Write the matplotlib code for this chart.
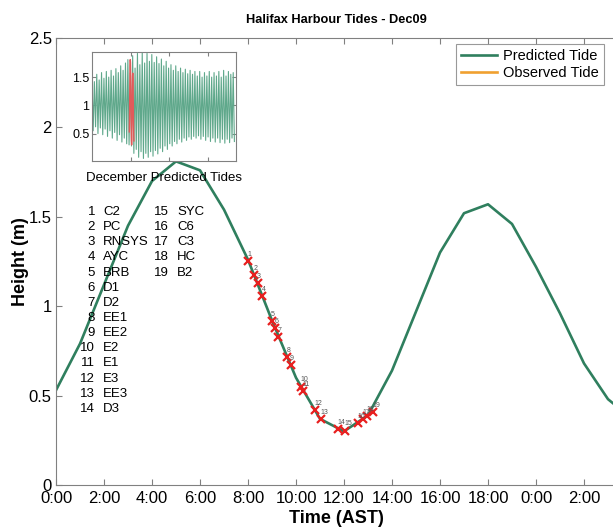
import numpy as np
import matplotlib
matplotlib.use("Agg")
import matplotlib.pyplot as plt

plt.rcParams['font.family'] = ['Liberation Sans', 'DejaVu Sans']

# predicted tide for Dec 09, hourly (m)
hours = np.arange(0, 25)
pred = [0.53, 0.79, 1.12, 1.45, 1.70, 1.81, 1.76, 1.54, 1.26, 0.92, 0.60, 0.37,
        0.30, 0.39, 0.64, 0.97, 1.30, 1.52, 1.57, 1.46, 1.22, 0.96, 0.68, 0.48, 0.37]

# sample stations (time in hours, height in m)
stations = ["C2", "PC", "RNSYS", "AYC", "BRB", "D1", "D2", "EE1", "EE2", "E2",
            "E1", "E3", "EE3", "D3", "SYC", "C6", "C3", "HC", "B2"]
st_time = [8.01, 8.26, 8.40, 8.60, 8.99, 9.13, 9.26, 9.64, 9.78, 10.21,
           10.31, 10.79, 11.03, 11.76, 12.04, 12.60, 12.80, 12.97, 13.20]
st_height = [1.254, 1.174, 1.128, 1.057, 0.919, 0.876, 0.829, 0.714, 0.671, 0.55,
             0.527, 0.42, 0.367, 0.311, 0.304, 0.348, 0.367, 0.386, 0.41]

xtick_pos = np.arange(0, 23, 2)
xtick_lab = ["0:00", "2:00", "4:00", "6:00", "8:00", "10:00", "12:00", "14:00",
             "16:00", "18:00", "0:00", "2:00"]
ytick_pos = [0, 0.5, 1, 1.5, 2, 2.5]
ytick_lab = ["0", "0.5", "1", "1.5", "2", "2.5"]

# December predicted highs / lows (m), one per tidal cycle
dec_highs = [1.50, 1.42, 1.55, 1.45, 1.58, 1.48, 1.60, 1.50, 1.62, 1.52,
             1.65, 1.58, 1.70, 1.62, 1.75, 1.81, 1.57, 1.88, 1.66, 1.92,
             1.72, 1.93, 1.75, 1.92, 1.78, 1.90, 1.76, 1.86, 1.74, 1.82,
             1.70, 1.78, 1.66, 1.72, 1.62, 1.70, 1.60, 1.66, 1.58, 1.64,
             1.56, 1.62, 1.55, 1.60, 1.52, 1.60, 1.50, 1.58, 1.52, 1.60,
             1.50, 1.58, 1.52, 1.60, 1.50, 1.62, 1.52, 1.60, 1.55, 1.58]
dec_lows = [0.55, 0.62, 0.50, 0.60, 0.48, 0.58, 0.45, 0.55, 0.42, 0.52,
            0.38, 0.48, 0.35, 0.42, 0.32, 0.30, 0.28, 0.15, 0.22, 0.08,
            0.18, 0.06, 0.15, 0.08, 0.18, 0.10, 0.20, 0.14, 0.24, 0.18,
            0.28, 0.22, 0.32, 0.28, 0.36, 0.32, 0.40, 0.35, 0.42, 0.38,
            0.44, 0.40, 0.45, 0.42, 0.46, 0.40, 0.45, 0.38, 0.44, 0.36,
            0.42, 0.35, 0.42, 0.34, 0.40, 0.33, 0.40, 0.34, 0.42, 0.36]
dec_level = np.ravel(np.column_stack([dec_highs, dec_lows]))
dec_time = -1.72 + 6.21 * np.arange(len(dec_level))
day_start = 192  # Dec 09 in hours from Dec 01

green = '#2f7f5e'
orange = '#f0a030'
grey = '#808080'

fig = plt.figure(figsize=(6.13, 5.28), dpi=100)
ax = fig.add_axes([56/613, 43/528, 561.6/613, 447/528])
ax.plot(hours, pred, color=green, lw=1.9, label="Predicted Tide")
ax.plot([], [], color=orange, lw=1.9, label="Observed Tide")
ax.plot(st_time, st_height, 'x', color='#e8201f', ms=6, mew=1.6, ls='none')
for i, (t, h) in enumerate(zip(st_time, st_height)):
    ax.annotate(str(i + 1), (t, h), xytext=(-0.5, 4.8), textcoords='offset points',
                fontsize=5.0, color='#555555', ha='left', va='center')

ax.set_xlim(0, 23.4)
ax.set_ylim(0, 2.5)
ax.set_xticks(xtick_pos)
ax.set_xticklabels(xtick_lab)
ax.set_yticks(ytick_pos)
ax.set_yticklabels(ytick_lab)
ax.tick_params(direction='in', top=True, right=False, labelsize=12, length=4,
               color=grey)
ax.tick_params(axis='x', pad=4)
ax.tick_params(axis='y', pad=3)
for s in ax.spines.values():
    s.set_color(grey)
ax.set_title("Halifax Harbour Tides - Dec09", fontsize=9.2, fontweight='bold', pad=11)
ax.set_xlabel("Time (AST)", fontsize=13, fontweight='bold', labelpad=3)
ax.set_ylabel("Height (m)", fontsize=13, fontweight='bold', labelpad=0)

leg = ax.legend(loc='upper right', bbox_to_anchor=(604/613, 1 - 44/528),
                bbox_transform=fig.transFigure, fontsize=10.5, fancybox=False,
                edgecolor=grey, handlelength=2.5, borderaxespad=0, borderpad=0.35,
                labelspacing=0.2, handletextpad=0.4)
leg.get_frame().set_linewidth(0.8)

# station list
col1 = range(0, 14)
col2 = range(14, 19)
for r, i in enumerate(col1):
    y = 212 + r * 15.15
    fig.text(95/613, 1 - y/528, str(i + 1), fontsize=9.5, ha='right', va='center')
    fig.text(103/613, 1 - y/528, stations[i], fontsize=9.5, ha='left', va='center')
for r, i in enumerate(col2):
    y = 212 + r * 15.15
    fig.text(169/613, 1 - y/528, str(i + 1), fontsize=9.5, ha='right', va='center')
    fig.text(177/613, 1 - y/528, stations[i], fontsize=9.5, ha='left', va='center')

# inset: whole month
ins = fig.add_axes([92.3/613, 1 - 160.7/528, 143.4/613, 109/528])
ins.plot(dec_time, dec_level, color='#5fa88b', lw=0.8)
ins.plot(day_start + hours, pred, color='#e05a5a', lw=1.0)
ins.set_xlim(0, 744)
ins.set_ylim(0.02, 1.95)
ins.set_xticks([200, 400, 600])
ins.set_xticklabels([])
ins.set_yticks([0.5, 1, 1.5])
ins.set_yticklabels(["0.5", "1", "1.5"])
ins.tick_params(direction='in', top=True, right=True, labelsize=9, length=3,
                color=grey, pad=2)
for s in ins.spines.values():
    s.set_color(grey)
ins.set_xlabel("December Predicted Tides", fontsize=9.5, labelpad=6)

fig.savefig("out.png", dpi=100)
plt.close()
